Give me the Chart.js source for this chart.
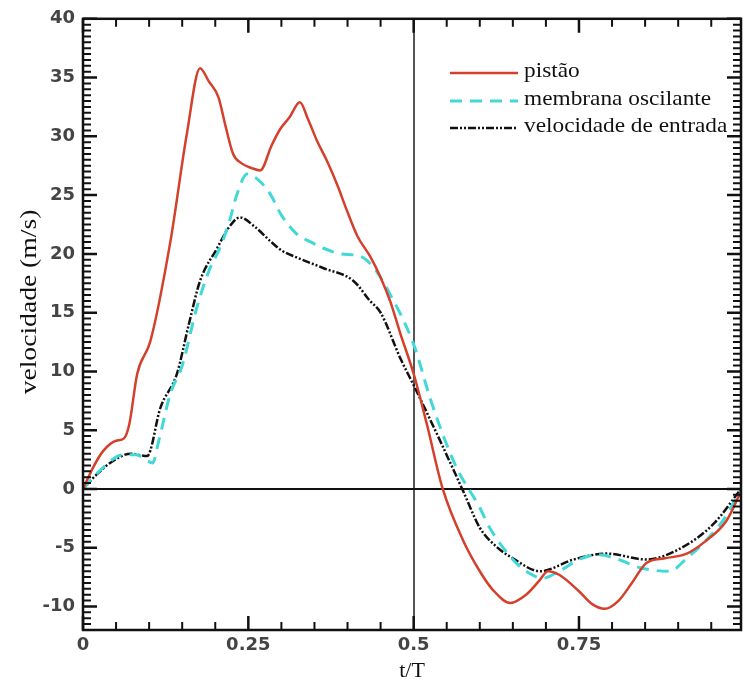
<!DOCTYPE html>
<html>
<head>
<meta charset="utf-8">
<script src="https://cdn.jsdelivr.net/npm/chart.js@4.4.0/dist/chart.umd.min.js"></script>
<style>
  body { margin: 0; background: #fff; }
  canvas { display: block; }
</style>
</head>
<body>
<canvas id="line-chart" width="744" height="682"></canvas>
<script>
// values: t/T and velocidade (m/s)
var pistaoT = [0, 0.015, 0.03, 0.05, 0.062, 0.07, 0.082, 0.102, 0.132, 0.157,
  0.177, 0.19, 0.205, 0.215, 0.227, 0.24, 0.255, 0.268, 0.285, 0.298,
  0.312, 0.328, 0.34, 0.354, 0.369, 0.385, 0.399, 0.415, 0.434, 0.45,
  0.465, 0.48, 0.5, 0.52, 0.544, 0.575, 0.6, 0.62, 0.646, 0.67,
  0.69, 0.703, 0.72, 0.75, 0.77, 0.789, 0.81, 0.83, 0.852, 0.88,
  0.913, 0.94, 0.973, 0.995];
var pistaoV = [0, 1.8, 3.2, 4.1, 4.3, 5.5, 9.8, 12.6, 21, 30.2,
  35.8, 34.7, 33.3, 31, 28.5, 27.7, 27.3, 27.1, 29.2, 30.6,
  31.6, 32.9, 31.5, 29.6, 27.9, 25.8, 23.7, 21.5, 19.8, 18.0,
  15.9, 13.2, 9.8, 5.5, 0, -4.4, -7, -8.6, -9.7, -9,
  -7.8, -7.0, -7.3, -8.7, -9.8, -10.2, -9.5, -8, -6.3, -5.9,
  -5.5, -4.5, -2.7, -0.2];

var membranaT = [0, 0.03, 0.06, 0.08, 0.095, 0.105, 0.115, 0.132, 0.15, 0.172,
  0.19, 0.207, 0.22, 0.233, 0.248, 0.265, 0.283, 0.3, 0.323, 0.345,
  0.363, 0.39, 0.419, 0.44, 0.464, 0.5, 0.525, 0.545, 0.565, 0.6,
  0.615, 0.65, 0.67, 0.695, 0.72, 0.75, 0.78, 0.81, 0.842, 0.887,
  0.913, 0.94, 0.97, 0.995];
var membranaV = [0, 1.8, 2.9, 2.9, 2.5, 2.2, 4.2, 8.1, 10.5, 15.4,
  18.5, 20.5, 22.5, 25.1, 26.8, 26.3, 25.1, 23.3, 21.7, 21,
  20.5, 20, 19.8, 18.8, 16.6, 12.3, 7.7, 4.5, 1.8, -1.6,
  -3.3, -6, -7.0, -7.6, -7.0, -6.0, -5.6, -6.0, -6.7, -7.0,
  -5.9, -4.5, -2.5, 0];

var entradaT = [0, 0.02, 0.046, 0.072, 0.097, 0.117, 0.142, 0.16, 0.177, 0.203,
  0.22, 0.237, 0.26, 0.283, 0.3, 0.323, 0.363, 0.409, 0.434, 0.45,
  0.48, 0.502, 0.54, 0.575, 0.6, 0.625, 0.65, 0.691, 0.742, 0.792,
  0.852, 0.902, 0.953, 0.995];
var entradaV = [0, 1.2, 2.4, 3.0, 2.8, 6.9, 9.8, 14, 17.7, 20.5,
  22.2, 23.1, 22.3, 21.1, 20.3, 19.7, 18.8, 17.7, 16.0, 15,
  11.1, 8.6, 4.1, -0.2, -3.3, -4.9, -5.9, -7.0, -6.0, -5.5,
  -6.0, -5.1, -3.0, 0];

var seriesNames = ["pistão", "membrana oscilante", "velocidade de entrada"];
var xTickLabels = [0, 0.25, 0.5, 0.75];
var yTickLabels = [-10, -5, 0, 5, 10, 15, 20, 25, 30, 35, 40];

function pairs(t, v) {
    var out = [];
    for (var i = 0; i < t.length; i++) {
        out.push({x: t[i], y: v[i]});
    }
    return out;
}

function near(a, b) { return Math.abs(a - b) < 1e-6; }
function isXLabel(v) { return xTickLabels.some(function(l){ return near(l, v); }); }
function isYLabel(v) { return yTickLabels.some(function(l){ return near(l, v); }); }

var serif = "'Liberation Serif', 'Times New Roman', serif";
var sans = "'DejaVu Sans', sans-serif";

// inward ticks on all four sides, closed box, in-plot legend, y title
var framePlugin = {
    id: 'frame',
    afterDraw: function(chart) {
        var ctx = chart.ctx;
        var a = chart.chartArea;
        var x = chart.scales.x, y = chart.scales.y;
        ctx.save();
        ctx.strokeStyle = '#111';
        ctx.lineCap = 'butt';

        x.ticks.forEach(function(t) {
            var px = x.getPixelForValue(t.value);
            var major = isXLabel(t.value);
            var len = major ? 14 : 8;
            ctx.lineWidth = major ? 2.5 : 2;
            ctx.beginPath();
            ctx.moveTo(px, a.bottom); ctx.lineTo(px, a.bottom - len);
            ctx.moveTo(px, a.top); ctx.lineTo(px, a.top + len);
            ctx.stroke();
        });
        y.ticks.forEach(function(t) {
            var py = y.getPixelForValue(t.value);
            var major = isYLabel(t.value);
            var len = major ? 14 : 8;
            ctx.lineWidth = major ? 2.5 : 2;
            ctx.beginPath();
            ctx.moveTo(a.left, py); ctx.lineTo(a.left + len, py);
            ctx.moveTo(a.right, py); ctx.lineTo(a.right - len, py);
            ctx.stroke();
        });

        ctx.lineWidth = 2.5;
        ctx.strokeRect(a.left, a.top, a.right - a.left, a.bottom - a.top);

        // legend
        var rows = [73, 101, 128];
        chart.data.datasets.forEach(function(ds, i) {
            ctx.save();
            ctx.strokeStyle = ds.borderColor;
            ctx.lineWidth = ds.borderWidth;
            ctx.setLineDash(ds.borderDash || []);
            ctx.beginPath();
            ctx.moveTo(450, rows[i]);
            ctx.lineTo(518, rows[i]);
            ctx.stroke();
            ctx.restore();

            ctx.save();
            ctx.fillStyle = '#111';
            ctx.font = '22px ' + serif;
            ctx.textBaseline = 'alphabetic';
            ctx.textAlign = 'left';
            ctx.translate(524, rows[i] + 4);
            ctx.scale(1.06, 1);
            ctx.fillText(ds.label, 0, 0);
            ctx.restore();
        });

        // y axis title
        ctx.save();
        ctx.fillStyle = '#111';
        ctx.font = '23px ' + serif;
        ctx.textAlign = 'center';
        ctx.textBaseline = 'alphabetic';
        ctx.translate(36, 302);
        ctx.rotate(-Math.PI / 2);
        ctx.scale(1.2, 1);
        ctx.fillText('velocidade (m/s)', 0, 0);
        ctx.restore();

        ctx.restore();
    }
};

var chartData = {
    datasets: [{
        label: seriesNames[0],
        data: pairs(pistaoT, pistaoV),
        borderColor: '#d3402c',
        borderWidth: 2.5,
        borderDash: [],
        fill: false
    }, {
        label: seriesNames[1],
        data: pairs(membranaT, membranaV),
        borderColor: '#43d8d8',
        borderWidth: 3,
        borderDash: [12, 8],
        fill: false
    }, {
        label: seriesNames[2],
        data: pairs(entradaT, entradaV),
        borderColor: '#111111',
        borderWidth: 2.5,
        borderDash: [8, 2, 2, 2, 2, 2],
        fill: false
    }]
};

var config = {
    type: 'line',
    data: chartData,
    plugins: [framePlugin],
    options: {
        responsive: false,
        animation: false,
        layout: { padding: { top: 18, right: 3, left: 0, bottom: 0 } },
        plugins: { legend: { display: false }, tooltip: { enabled: false } },
        elements: {
            point: { radius: 0 },
            line: { cubicInterpolationMode: 'monotone' }
        },
        scales: {
            x: {
                type: 'linear',
                min: 0,
                max: 0.995,
                afterFit: function(s) { s.height = 52; },
                border: { display: false },
                grid: {
                    drawTicks: false,
                    lineWidth: 2,
                    color: function(c) { return near(c.tick.value, 0.5) ? '#555' : 'rgba(0,0,0,0)'; }
                },
                ticks: {
                    stepSize: 0.05,
                    includeBounds: false,
                    autoSkip: false,
                    maxRotation: 0,
                    padding: 5,
                    color: '#444',
                    font: { family: sans, size: 18, weight: 'bold' },
                    callback: function(v) { return isXLabel(v) ? String(Math.round(v * 4) / 4) : ''; }
                },
                title: {
                    display: true,
                    text: 't/T',
                    color: '#111',
                    padding: 0,
                    font: { family: serif, size: 22, lineHeight: 1 }
                }
            },
            y: {
                min: -12,
                max: 40,
                afterFit: function(s) { s.width = 83; },
                border: { display: false },
                grid: {
                    drawTicks: false,
                    lineWidth: 2,
                    color: function(c) { return near(c.tick.value, 0) ? '#111' : 'rgba(0,0,0,0)'; }
                },
                ticks: {
                    stepSize: 0.5,
                    autoSkip: false,
                    padding: 8,
                    color: '#444',
                    font: { family: sans, size: 18, weight: 'bold' },
                    callback: function(v) { return isYLabel(v) ? String(Math.round(v)) : ''; }
                }
            }
        }
    }
};

var lineChart = new Chart(document.getElementById('line-chart'), config);
</script>
</body>
</html>
